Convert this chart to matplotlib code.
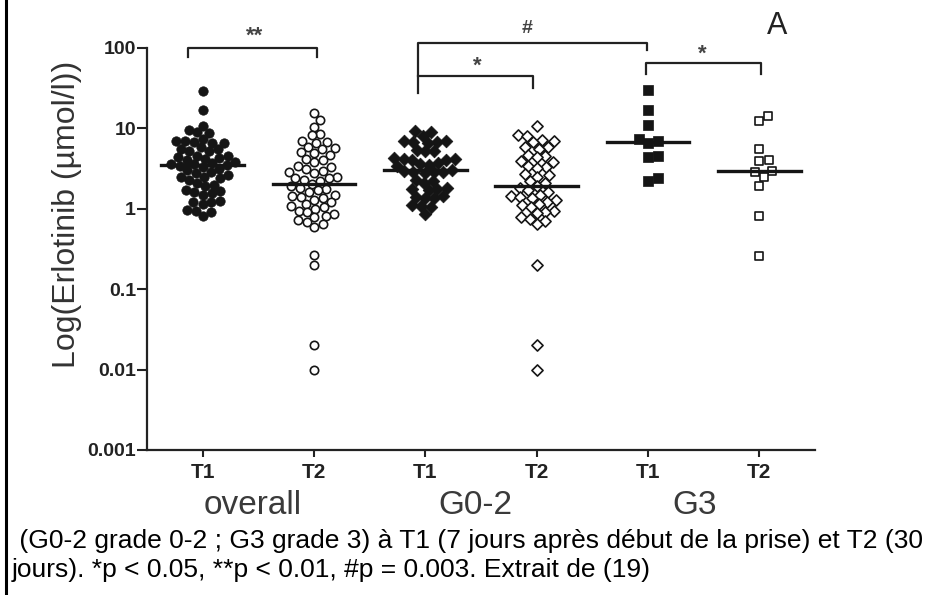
import numpy as np
import matplotlib
matplotlib.use("Agg")
import matplotlib.pyplot as plt
from matplotlib.lines import Line2D

plt.rcParams["font.family"] = ["Liberation Sans", "DejaVu Sans"]

# values (umol/l)
overall_t1 = [29, 17, 10.8, 9.5, 9.0, 8.8, 7.4, 7.0, 7.0, 6.8, 6.6, 6.5,
              5.8, 5.6, 5.5, 5.3, 5.2, 4.6, 4.5, 4.4, 4.3, 4.2, 4.1,
              3.8, 3.7, 3.6, 3.6, 3.5, 3.4, 3.3, 3.1, 3.0, 2.9, 2.8,
              2.6, 2.5, 2.5, 2.4, 2.3, 2.1, 2.0, 1.9, 1.7, 1.65, 1.6, 1.55,
              1.5, 1.25, 1.2, 1.2, 1.15, 0.98, 0.95, 0.92, 0.82]
overall_t2 = [15.6, 12.8, 10.5, 8.6, 8.2, 7.0, 6.8, 6.6, 5.9, 5.7, 5.5, 5.1,
              4.9, 4.7, 4.2, 4.0, 3.8, 3.4, 3.3, 3.1, 2.97, 2.9, 2.8, 2.5,
              2.45, 2.4, 2.3, 2.2, 2.05, 1.9, 1.8, 1.77, 1.7, 1.6, 1.5, 1.45,
              1.41, 1.35, 1.3, 1.2, 1.15, 1.09, 1.05, 1.0, 0.95, 0.9, 0.87,
              0.82, 0.78, 0.72, 0.69, 0.65, 0.6, 0.27, 0.2, 0.02, 0.01]
g02_t1 = [9.3, 9.0, 8.1, 7.0, 6.9, 6.8, 6.7, 6.6, 5.4, 5.3, 5.2, 4.3, 4.2,
          4.2, 4.1, 4.0, 3.7, 3.6, 3.5, 3.4, 3.0, 2.95, 2.9, 2.9, 2.85, 2.8,
          2.3, 2.2, 2.1, 1.8, 1.77, 1.75, 1.7, 1.45, 1.4, 1.38, 1.35, 1.1,
          1.08, 1.05, 0.87]
g02_t2 = [10.8, 8.2, 8.0, 7.2, 7.0, 6.8, 5.9, 5.8, 5.6, 4.7, 4.6, 4.4, 3.9,
          3.8, 3.4, 3.3, 3.2, 2.7, 2.6, 2.5, 2.2, 2.1, 1.9, 1.8, 1.7, 1.6,
          1.5, 1.45, 1.4, 1.35, 1.3, 1.2, 1.15, 1.1, 1.05, 0.95, 0.92, 0.88,
          0.8, 0.75, 0.71, 0.65, 0.2, 0.02, 0.01]
g3_t1 = [30, 17, 11.1, 7.4, 7.0, 6.5, 4.6, 4.4, 2.4, 2.2]
g3_t2 = [14.3, 12.4, 5.6, 4.0, 3.9, 2.95, 2.85, 2.5, 1.93, 0.82, 0.26]

series = [overall_t1, overall_t2, g02_t1, g02_t2, g3_t1, g3_t2]
tick_labels = ["T1", "T2", "T1", "T2", "T1", "T2"]
groups = ["overall", "G0-2", "G3"]
markers = ["o", "o", "D", "D", "s", "s"]
filled = [True, False, True, False, True, False]

# significance brackets: x1, x2, y, left leg end, right leg end, label, label x, label y
brackets = [
    (0.87, 2.03, 100, 77, 77, "**", 1.47, 140),
    (2.934, 4.99, 115, 27.5, 94, "#", 3.91, 175),
    (2.934, 3.967, 44.8, 44.8, 31.8, "*", 3.47, 60),
    (4.982, 6.015, 65, 47.5, 47.5, "*", 5.49, 84),
]

fig = plt.figure(figsize=(9.32, 5.95), dpi=100)
ax = fig.add_axes([147 / 932, 1 - 450 / 595, 668 / 932, 402 / 595])
ax.set_yscale("log")
ax.set_xlim(0.5, 6.5)
ax.set_ylim(0.001, 100)

ink = "#151515"


def swarm(values, center, d):
    n = len(values)
    pts = ax.transData.transform(np.column_stack([np.full(n, center), values]))
    ys = pts[:, 1]
    steps = np.arange(0, 120, 0.5)
    cands = [0.0]
    for s in steps[1:]:
        cands += [s, -s]
    placed = []
    offs = np.zeros(n)
    for i in np.argsort(ys):
        for dx in cands:
            if all((dx - px) ** 2 + (ys[i] - py) ** 2 >= d * d for px, py in placed):
                break
        placed.append((dx, ys[i]))
        offs[i] = dx
    unit = ax.transData.transform((1, 1))[0] - ax.transData.transform((0, 1))[0]
    return center + offs / unit


for k, vals in enumerate(series):
    pos = k + 1
    xs = swarm(vals, pos, 8.6 if len(vals) > 20 else 10)
    if filled[k]:
        ax.scatter(xs, vals, s=46 if markers[k] != "D" else 42, marker=markers[k],
                   color=ink, edgecolor=ink, linewidth=0.5, zorder=3)
    else:
        ax.scatter(xs, vals, s=36 if markers[k] != "D" else 32, marker=markers[k],
                   facecolor="white", edgecolor=ink, linewidth=1.2, zorder=3)
    med = np.median(vals)
    ax.plot([pos - 0.37, pos + 0.37], [med, med], color=ink, lw=2.4, zorder=4)

for x1, x2, y, yl, yr, lab, lx, ly in brackets:
    ax.add_line(Line2D([x1, x1, x2, x2], [yl, y, y, yr], color="#222", lw=1.6,
                       clip_on=False))
    ax.text(lx, ly, lab, ha="center", va="center", fontsize=16 if "*" in lab else 14,
            fontweight="bold", color="#444", clip_on=False)

ax.text(6.16, 1.055, "A", transform=ax.get_xaxis_transform(), fontsize=22,
        ha="center", va="center", color="#222")

ax.spines["top"].set_visible(False)
ax.spines["right"].set_visible(False)
for sp in ("left", "bottom"):
    ax.spines[sp].set_linewidth(1.6)
    ax.spines[sp].set_color("#222")

ax.set_yticks([0.001, 0.01, 0.1, 1, 10, 100])
ax.set_yticklabels(["0.001", "0.01", "0.1", "1", "10", "100"])
ax.yaxis.set_minor_locator(matplotlib.ticker.NullLocator())
ax.set_xticks(range(1, 7))
ax.set_xticklabels(tick_labels)
ax.tick_params(axis="y", length=7, width=1.5, color="#222", labelsize=14, pad=1)
ax.tick_params(axis="x", length=5, width=1.5, color="#222", labelsize=15, pad=4)
for t in ax.get_xticklabels() + ax.get_yticklabels():
    t.set_fontweight("bold")
    t.set_color("#222")

ax.set_ylabel("Log(Erlotinib (\u00b5mol/l))", fontsize=23, color="#333")
ax.yaxis.set_label_coords(-0.097, 0.585)

for name, gx in zip(groups, [1.45, 3.45, 5.42]):
    ax.text(gx, -0.137, name, transform=ax.get_xaxis_transform(), fontsize=24,
            ha="center", va="center", color="#3a3a3a")

fig.text(12 / 932, 1 - 541 / 595,
         " (G0-2 grade 0-2 ; G3 grade 3) \u00e0 T1 (7 jours apr\u00e8s d\u00e9but de la prise) et T2 (30",
         fontsize=19, va="center", ha="left", color="black")
fig.text(12 / 932, 1 - 570 / 595,
         "jours). *p < 0.05, **p < 0.01, #p = 0.003. Extrait de (19)",
         fontsize=19, va="center", ha="left", color="black")

fig.add_artist(Line2D([6 / 932, 6 / 932], [0, 1], color="black", lw=2.2,
                      transform=fig.transFigure))

fig.savefig("out.png", dpi=100)
